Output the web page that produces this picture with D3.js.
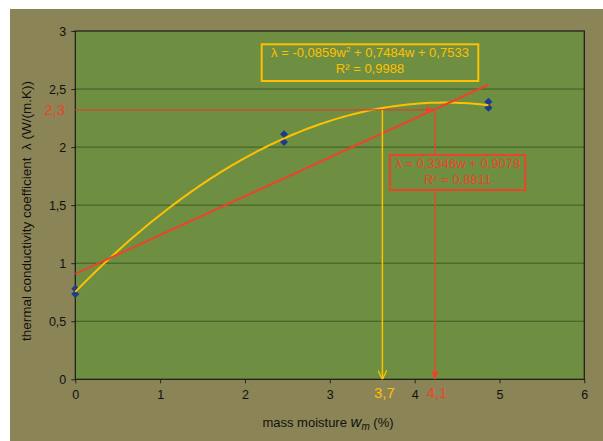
<!DOCTYPE html>
<html>
<head>
<meta charset="utf-8">
<script src="https://cdn.jsdelivr.net/npm/d3@7"></script>
<style>
  body { margin: 0; background: #fff; }
  svg { display: block; font-family: "Liberation Sans", Arial, sans-serif; }
</style>
</head>
<body>
<script>
"use strict";

var width = 603;
var height = 441;

// data
var moisture = [0, 0, 2.46, 2.46, 4.87, 4.87];
var conductivity = [0.735, 0.78, 2.045, 2.11, 2.34, 2.39];
var xTicks = [0, 1, 2, 3, 4, 5, 6];
var yTicks = [0, 0.5, 1, 1.5, 2, 2.5, 3];
var quadCoef = [-0.0859, 0.7484, 0.7533];
var linCoef = [0.3346, 0.9078];
var trendRange = [0, 4.87];
var readLevel = 2.32;
var readLevelLabel = "2,3";
var readX = [3.62, 4.24];
var readXLabels = ["3,7", "4,1"];

var olive = "#8b8456";
var plotGreen = "#6e8f42";
var gridGreen = "#3f5a22";
var yellow = "#ffc000";
var red = "#ec4429";
var blue = "#1f3a8a";

var svg = d3.select("body").append("svg").attr("width", width).attr("height", height);
svg.append("rect").attr("x", 10).attr("y", 9).attr("width", width - 10).attr("height", height - 9).attr("fill", olive);

var xScale = d3.scaleLinear().domain([0, 6]).range([75.3, 584.3]);
var yScale = d3.scaleLinear().domain([0, 3]).range([379.3, 31]);

var fmt = function (d) { return String(d).replace(".", ","); };

// plot area
svg.append("rect").attr("x", xScale(0)).attr("y", yScale(3))
  .attr("width", xScale(6) - xScale(0)).attr("height", yScale(0) - yScale(3))
  .attr("fill", plotGreen);

// grid
svg.append("g").selectAll("line").data(yTicks.filter(function (d) { return d > 0 && d < 3; })).enter().append("line")
  .attr("x1", xScale(0)).attr("x2", xScale(6))
  .attr("y1", function (d) { return yScale(d); }).attr("y2", function (d) { return yScale(d); })
  .attr("stroke", gridGreen).attr("stroke-width", 1);

// axes
var xAxis = d3.axisBottom(xScale).tickValues(xTicks).tickFormat(fmt).tickSize(4).tickSizeOuter(0);
var yAxis = d3.axisLeft(yScale).tickValues(yTicks).tickFormat(fmt).tickSize(4).tickSizeOuter(0);
var gx = svg.append("g").attr("transform", "translate(0," + yScale(0) + ")").call(xAxis);
var gy = svg.append("g").attr("transform", "translate(" + xScale(0) + ",0)").call(yAxis);
[gx, gy].forEach(function (g) {
  g.select(".domain").remove();
  g.selectAll(".tick line").attr("stroke", "#222");
  g.selectAll(".tick text").attr("fill", "#111").attr("font-size", 12.5).attr("font-family", "Liberation Sans, Arial, sans-serif");
});
gx.selectAll(".tick text").attr("dy", "1.05em");
gy.selectAll(".tick text").attr("x", -9);

// plot frame
svg.append("rect").attr("x", xScale(0)).attr("y", yScale(3))
  .attr("width", xScale(6) - xScale(0)).attr("height", yScale(0) - yScale(3))
  .attr("fill", "none").attr("stroke", "#1a1a1a").attr("stroke-width", 1.2);

// data points (under the trend lines)
var diamond = "M0,-4L4,0L0,4L-4,0Z";
svg.append("g").selectAll("path").data(moisture).enter().append("path")
  .attr("d", diamond)
  .attr("transform", function (d, i) { return "translate(" + xScale(d) + "," + yScale(conductivity[i]) + ")"; })
  .attr("fill", blue);

// trend lines from the displayed equations
var samples = d3.range(0, 101).map(function (i) {
  return trendRange[0] + (trendRange[1] - trendRange[0]) * i / 100;
});
var line = d3.line().x(function (d) { return xScale(d[0]); }).y(function (d) { return yScale(d[1]); });

svg.append("path").datum(samples.map(function (w) {
  return [w, quadCoef[0] * w * w + quadCoef[1] * w + quadCoef[2]];
})).attr("d", line).attr("fill", "none").attr("stroke", yellow).attr("stroke-width", 2);

svg.append("path").datum(trendRange.map(function (w) {
  return [w, linCoef[0] * w + linCoef[1]];
})).attr("d", line).attr("fill", "none").attr("stroke", red).attr("stroke-width", 2);

// markers
var defs = svg.append("defs");
defs.append("marker").attr("id", "redArrow").attr("viewBox", "0 0 10 10").attr("refX", 10).attr("refY", 5)
  .attr("markerWidth", 8).attr("markerHeight", 8).attr("markerUnits", "userSpaceOnUse").attr("orient", "auto")
  .append("path").attr("d", "M0,0L10,5L0,10Z").attr("fill", red);
defs.append("marker").attr("id", "yellowArrow").attr("viewBox", "0 0 10 10").attr("refX", 10).attr("refY", 5)
  .attr("markerWidth", 9).attr("markerHeight", 9).attr("markerUnits", "userSpaceOnUse").attr("orient", "auto")
  .append("path").attr("d", "M0,0L10,5L0,10").attr("fill", "none").attr("stroke", yellow).attr("stroke-width", 1.5);

// reading lines
svg.append("line").attr("x1", xScale(0)).attr("x2", xScale(readX[1]) - 1)
  .attr("y1", yScale(readLevel)).attr("y2", yScale(readLevel))
  .attr("stroke", "#d4472b").attr("stroke-width", 1.2).attr("marker-end", "url(#redArrow)");
svg.append("line").attr("x1", xScale(readX[0])).attr("x2", xScale(readX[0]))
  .attr("y1", yScale(readLevel)).attr("y2", yScale(0))
  .attr("stroke", yellow).attr("stroke-width", 1.5).attr("marker-end", "url(#yellowArrow)");
svg.append("line").attr("x1", xScale(readX[1])).attr("x2", xScale(readX[1]))
  .attr("y1", yScale(readLevel)).attr("y2", yScale(0))
  .attr("stroke", red).attr("stroke-width", 1.3).attr("marker-end", "url(#redArrow)");

// equation boxes
function eqBox(x, y, w, h, color, lines) {
  svg.append("rect").attr("x", x).attr("y", y).attr("width", w).attr("height", h)
    .attr("fill", plotGreen).attr("stroke", color).attr("stroke-width", 2);
  lines.forEach(function (l, i) {
    var t = svg.append("text").attr("x", x + w / 2).attr("y", y + 13 + i * 16)
      .attr("text-anchor", "middle").attr("fill", color).attr("font-size", 13);
    l.forEach(function (p) {
      var ts = t.append("tspan").text(p.t);
      if (p.sup) ts.attr("font-size", 8).attr("dy", -5);
      if (p.down) ts.attr("dy", 5);
    });
  });
}
eqBox(261.7, 44.3, 216.6, 36.7, yellow, [
  [{ t: "\u03bb = -0,0859w" }, { t: "2", sup: true }, { t: " + 0,7484w + 0,7533", down: true }],
  [{ t: "R\u00b2 = 0,9988" }]
]);
eqBox(390, 155, 135.3, 35, red, [
  [{ t: "\u03bb = 0,3346w + 0,9078" }],
  [{ t: "R\u00b2 = 0,8811" }]
]);

// reading labels
svg.append("text").attr("x", 65).attr("y", yScale(readLevel) + 5).attr("text-anchor", "end")
  .attr("fill", red).attr("font-size", 15).text(readLevelLabel);
svg.selectAll(".readx").data(readX).enter().append("text")
  .attr("x", function (d) { return xScale(d) + 2; }).attr("y", 398)
  .attr("text-anchor", "middle").attr("font-size", 15)
  .attr("fill", function (d, i) { return i === 0 ? yellow : red; })
  .text(function (d, i) { return readXLabels[i]; });

// axis titles
var xt = svg.append("text").attr("x", 328).attr("y", 427).attr("text-anchor", "middle")
  .attr("font-size", 13).attr("fill", "#111");
xt.append("tspan").text("mass moisture ");
xt.append("tspan").attr("font-style", "italic").attr("font-size", 15).text("w");
xt.append("tspan").attr("font-style", "italic").attr("font-size", 10).attr("dy", 3).text("m");
xt.append("tspan").attr("dy", -3).text(" (%)");

svg.append("text").attr("transform", "translate(31,211) rotate(-90)").attr("text-anchor", "middle")
  .attr("font-size", 13.5).attr("fill", "#111").attr("xml:space", "preserve")
  .text("thermal conductivity coefficient  \u03bb (W/(m.K))");
</script>
</body>
</html>
